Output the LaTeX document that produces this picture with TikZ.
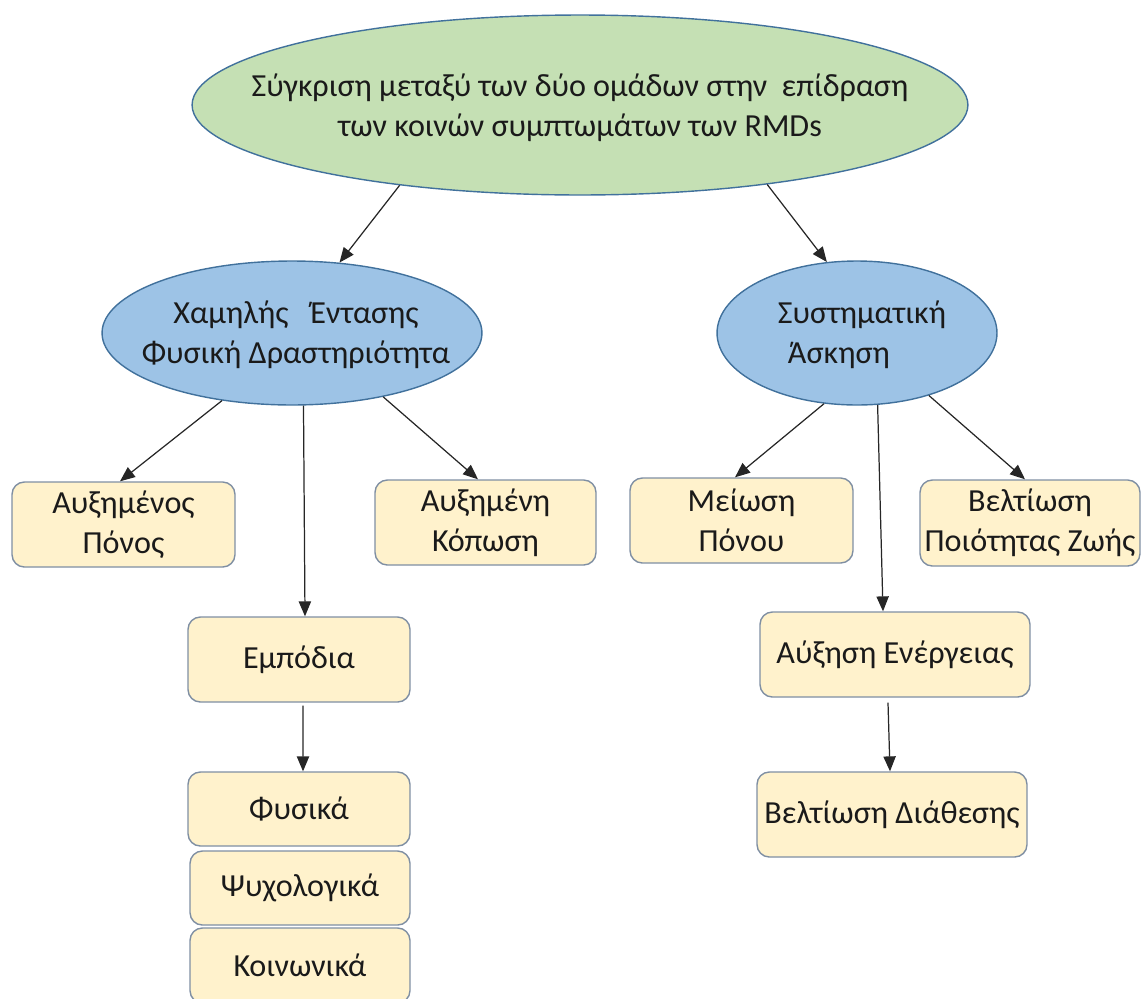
\documentclass[tikz,border=0pt]{standalone}
\usepackage{fontspec}
\setmainfont{Carlito}
\usetikzlibrary{arrows.meta,shapes.geometric}
\definecolor{greenfill}{HTML}{C5E0B4}
\definecolor{bluefill}{HTML}{9DC3E6}
\definecolor{ellline}{HTML}{41719C}
\definecolor{boxfill}{HTML}{FFF2CC}
\definecolor{boxline}{HTML}{7F8FA3}
\definecolor{textcol}{HTML}{1A1A1A}
\begin{document}
\begin{tikzpicture}[x=0.02cm,y=-0.02cm,
  every node/.style={font=\fontsize{18.3}{22.7}\selectfont, text=textcol},
  ell/.style={ellipse, draw=ellline, line width=0.8pt, inner sep=0pt},
  txt/.style={align=center, inner sep=0pt},
  box/.style={draw=boxline, fill=boxfill, rounded corners=7pt, line width=0.8pt, align=center, inner sep=0pt},
  arr/.style={-{Triangle[length=8.5pt,width=7pt]}, line width=0.7pt, draw=black!85}]
\useasboundingbox (0,0) rectangle (1142,998);

% ellipses
\node[ell, fill=greenfill, minimum width=15.52cm, minimum height=3.6cm] (top) at (580,105) {};
\node[txt] (toptext) at ([yshift=-0.05cm]top.center) {Σύγκριση μεταξύ των δύο ομάδων στην \ επίδραση\\των κοινών συμπτωμάτων των RMDs};

\node[ell, fill=bluefill, minimum width=7.6cm, minimum height=2.88cm] (left) at (292,333) {};
\node[txt] (lefttext) at ([shift={(0.08cm,-0.04cm)}]left.center) {Χαμηλής \ \ Έντασης\\Φυσική Δραστηριότητα};

\node[ell, fill=bluefill, minimum width=5.6cm, minimum height=2.88cm] (right) at (857,333) {};
\node[txt, align=left] (righttext) at ([shift={(0.1cm,-0.04cm)}]right.center) {Συστηματική\\\hspace*{0.2cm}Άσκηση};

% boxes
\node[box, minimum width=4.46cm, minimum height=1.7cm] (apono) at (123.5,524.5) {Αυξημένος\\Πόνος};
\node[box, minimum width=4.42cm, minimum height=1.7cm] (akop) at (485.5,522.5) {Αυξημένη\\Κόπωση};
\node[box, minimum width=4.44cm, minimum height=1.7cm] (empodia) at (299,659.5) {Εμπόδια};
\node[box, minimum width=4.44cm, minimum height=1.48cm] (fysika) at (299,809) {Φυσικά};
\node[box, minimum width=4.4cm, minimum height=1.48cm] (psych) at (300,888) {Ψυχολογικά};
\node[box, minimum width=4.4cm, minimum height=1.5cm] (koin) at (300,965.5) {Κοινωνικά};

\node[box, minimum width=4.46cm, minimum height=1.7cm] (meiosi) at (741.5,520.5) {Μείωση\\Πόνου};
\node[box, minimum width=4.4cm, minimum height=1.72cm] (poiot) at (1030,523) {Βελτίωση\\Ποιότητας Ζωής};
\node[box, minimum width=5.4cm, minimum height=1.7cm] (aux) at (895,654.5) {Αύξηση Ενέργειας};
\node[box, minimum width=5.4cm, minimum height=1.7cm] (diath) at (892,814.5) {Βελτίωση Διάθεσης};

% connectors
\draw[arr] (top.204) -- (left.56);
\draw[arr] (top.337) -- (right.113);
\draw[arr] (left.224) -- ([xshift=-0.07cm]apono.north);
\draw[arr] (left.279) -- ([xshift=0.12cm]empodia.north);
\draw[arr] (left.325) -- ([xshift=-0.15cm]akop.north);
\draw[arr] ([shift={(4,3)}]empodia.south) -- ([xshift=0.08cm]fysika.north);
\draw[arr] (right.245) -- ([xshift=-0.13cm]meiosi.north);
\draw[arr] (right.286) -- ([xshift=-0.24cm]aux.north);
\draw[arr] (right.319) -- ([xshift=-0.1cm]poiot.north);
\draw[arr] ([shift={(-7,5)}]aux.south) -- ([xshift=-0.04cm]diath.north);
\end{tikzpicture}
\end{document}
